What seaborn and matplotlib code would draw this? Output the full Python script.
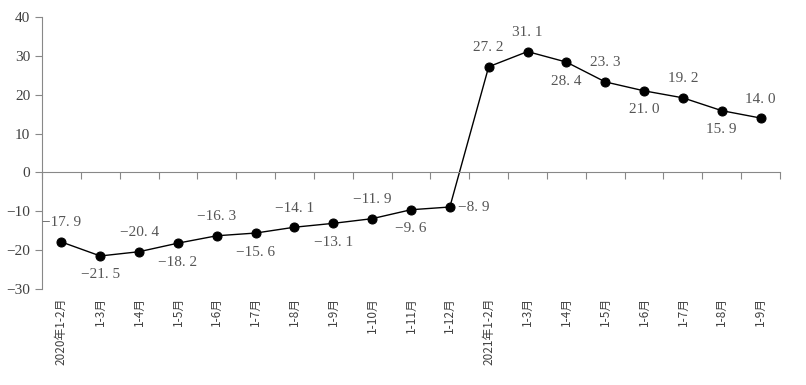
import matplotlib
matplotlib.use("Agg")
import matplotlib.pyplot as plt
import matplotlib.transforms as mtransforms
import seaborn as sns
import pandas as pd

# data
months = ["2020年1-2月", "1-3月", "1-4月", "1-5月", "1-6月", "1-7月", "1-8月", "1-9月",
          "1-10月", "1-11月", "1-12月", "2021年1-2月", "1-3月", "1-4月", "1-5月",
          "1-6月", "1-7月", "1-8月", "1-9月"]
growth = [-17.9, -21.5, -20.4, -18.2, -16.3, -15.6, -14.1, -13.1, -11.9, -9.6, -8.9,
          27.2, 31.1, 28.4, 23.3, 21.0, 19.2, 15.9, 14.0]
# label placement per point: above / below / right
label_pos = ["above", "below", "above", "below", "above", "below", "above", "below",
             "above", "below", "right", "above", "above", "below", "above",
             "below", "above", "below", "above"]

df = pd.DataFrame({"idx": range(len(growth)), "value": growth})

sns.set_style("white")
plt.rcParams["font.family"] = ["Liberation Serif", "Noto Sans CJK SC"]

fig = plt.figure(figsize=(8.06, 3.85), dpi=100)
ax = fig.add_axes([42 / 806, 1 - 289 / 385, (780 - 42) / 806, (289 - 17) / 385])

sns.lineplot(data=df, x="idx", y="value", ax=ax, color="black", linewidth=1.0,
             marker="o", markersize=6.5, markeredgecolor="black")

ax.set_xlim(-0.5, len(growth) - 0.5)
ax.set_ylim(-30, 40)
ax.set_yticks(range(-30, 41, 10))
ax.set_xlabel("")
ax.set_ylabel("")

for s in ["top", "right"]:
    ax.spines[s].set_visible(False)
ax.spines["left"].set_color("#888888")
ax.spines["bottom"].set_color("#888888")
ax.spines["bottom"].set_position(("data", 0))

ax.tick_params(axis="y", direction="out", length=5, width=0.8, color="#888888",
               labelsize=11, labelcolor="#404040", left=True)
ax.set_xticks([i - 0.5 for i in range(len(growth) + 1)])
ax.set_xticklabels([])
ax.tick_params(axis="x", direction="out", length=5, width=0.8, color="#888888", bottom=True)

# category labels under the plot area
trans = mtransforms.blended_transform_factory(ax.transData, ax.transAxes)
for i, m in enumerate(months):
    ax.text(i, -0.03, m, transform=trans, rotation=90, ha="center", va="top",
            fontsize=8.5, color="#404040", family=["Noto Sans CJK SC", "DejaVu Sans"])

# data labels
for i, (v, p) in enumerate(zip(growth, label_pos)):
    txt = f"{v:.1f}".replace(".", ". ").replace("-", "−")
    kw = dict(textcoords="offset points", fontsize=11, color="#555555")
    if p == "above":
        ax.annotate(txt, (i, v), xytext=(0, 9), ha="center", va="bottom", **kw)
    elif p == "below":
        ax.annotate(txt, (i, v), xytext=(0, -9), ha="center", va="top", **kw)
    else:
        ax.annotate(txt, (i, v), xytext=(6, 0), ha="left", va="center", **kw)

fig.savefig("out.png", dpi=100)
